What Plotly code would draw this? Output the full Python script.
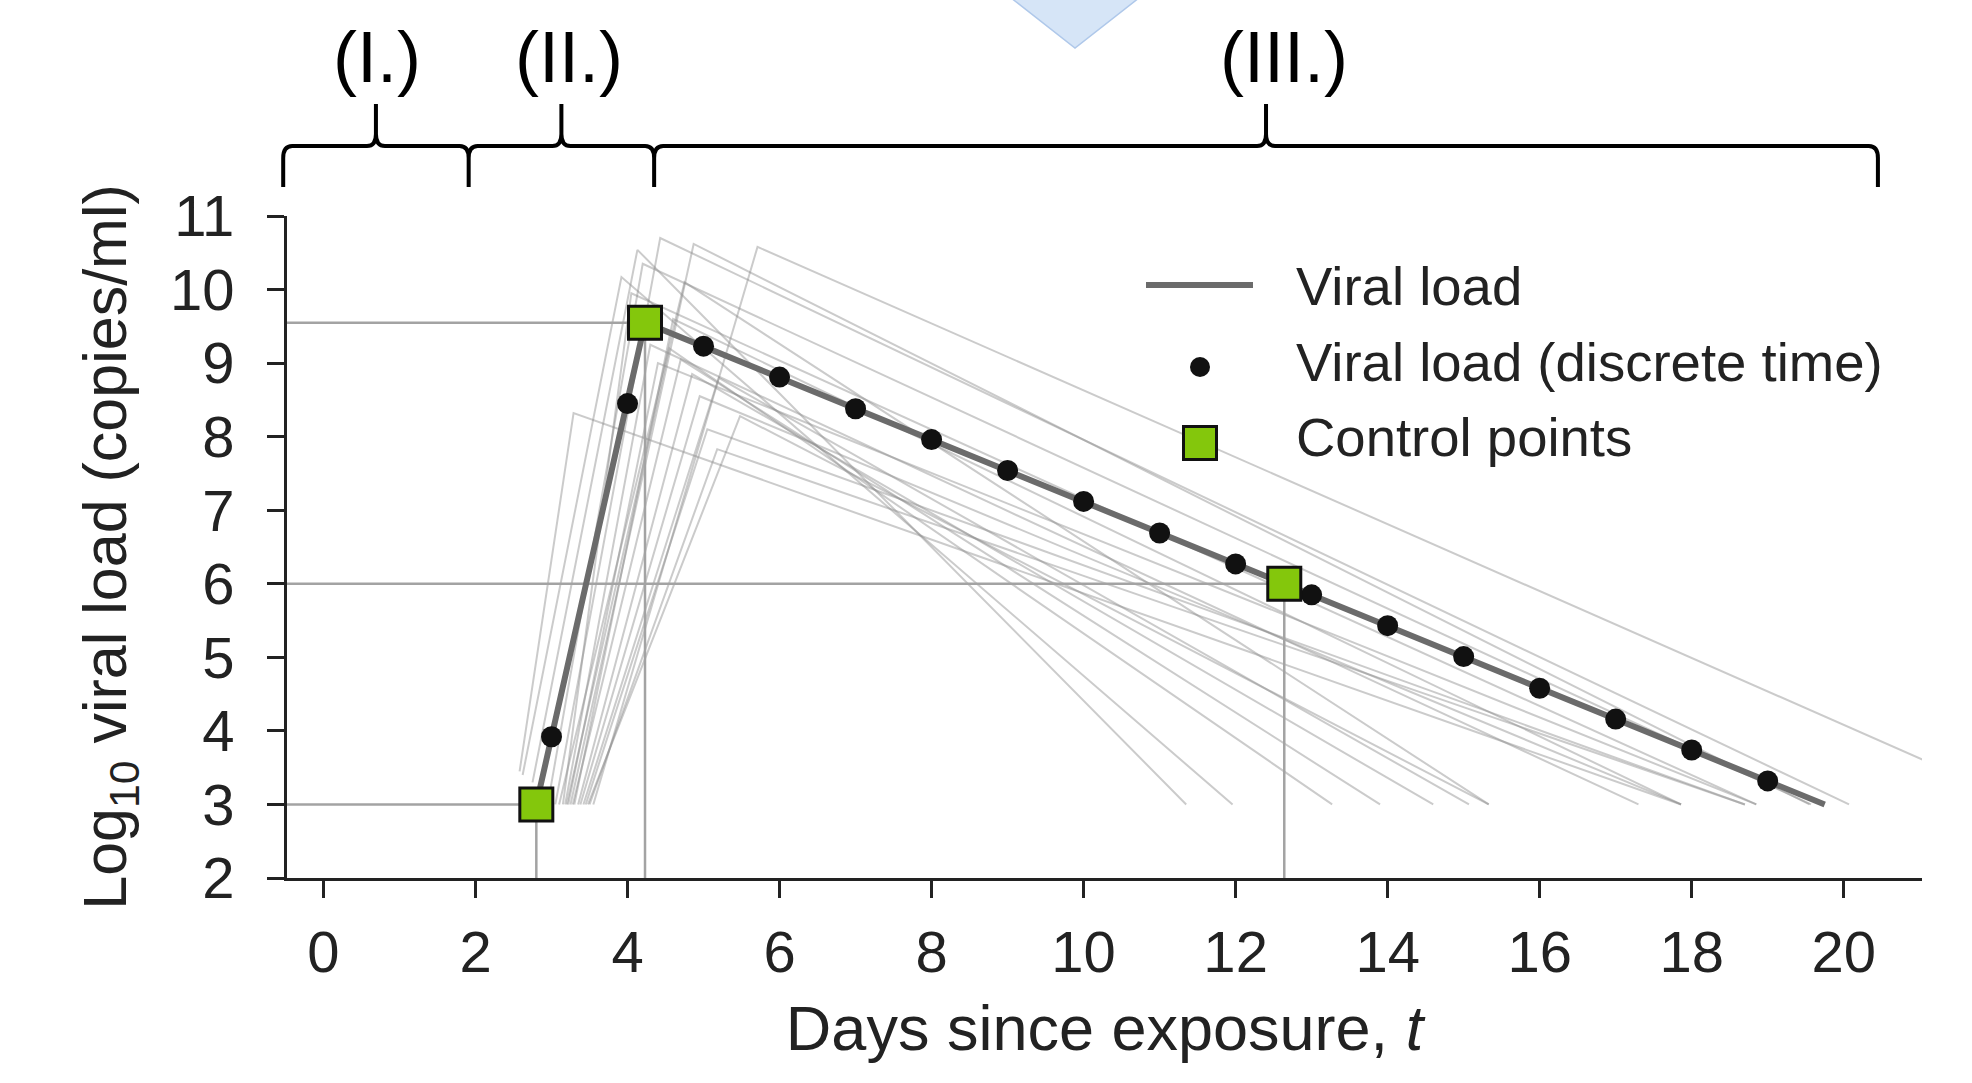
import plotly.graph_objects as go

# ---------------- data ----------------
control_day = [2.80, 4.23, 12.64]
control_load = [3.00, 9.55, 6.00]

curve_day = [2.80, 4.23, 12.64, 19.75]
curve_load = [3.00, 9.55, 6.00, 3.00]

discrete_day = [3, 4, 5, 6, 7, 8, 9, 10, 11, 12, 13, 14, 15, 16, 17, 18, 19]
discrete_load = [3.92, 8.45, 9.23, 8.81, 8.38, 7.96, 7.54, 7.12, 6.69,
                 6.27, 5.85, 5.43, 5.01, 4.58, 4.16, 3.74, 3.32]

# sampled (uncertainty) trajectories: start -> peak -> end
sample_start_day = [2.62, 2.75, 2.58, 3.05, 3.25, 3.55, 3.20, 3.28, 3.35, 3.42,
                    3.48, 3.50, 3.15, 3.30, 3.22, 3.38, 3.45, 3.18, 2.95, 3.10]
sample_start_load = [3.40, 3.30, 3.45, 3.00, 3.00, 3.00, 3.00, 3.00, 3.00, 3.00,
                     3.00, 3.00, 3.00, 3.00, 3.00, 3.00, 3.00, 3.00, 3.00, 3.00]
sample_peak_day = [3.92, 4.13, 3.29, 4.43, 4.87, 5.71, 4.55, 4.70, 4.85, 5.20,
                   5.48, 5.18, 4.05, 4.60, 4.40, 4.95, 5.05, 4.30, 4.20, 4.75]
sample_peak_load = [10.17, 10.54, 8.32, 10.70, 10.62, 10.58, 9.20, 9.05, 8.85, 8.80,
                    8.28, 7.83, 9.95, 9.60, 9.00, 8.55, 8.10, 9.25, 10.35, 10.10]
sample_end_day = [11.96, 11.35, 17.86, 20.07, 19.55, 21.50, 13.27, 13.90, 14.60, 15.07,
                  15.33, 18.70, 18.85, 17.86, 18.85, 17.86, 18.70, 17.30, 19.57, 15.33]
sample_end_load = [3.00, 3.00, 3.00, 3.00, 3.00, 3.40, 3.00, 3.00, 3.00, 3.00,
                   3.00, 3.00, 3.00, 3.00, 3.00, 3.00, 3.00, 3.00, 3.00, 3.00]

phase_labels = ["(I.)", "(II.)", "(III.)"]
phase_bounds = [-0.53, 1.91, 4.35, 20.45]
phase_label_day = [0.71, 3.23, 12.64]

x_ticks = [0, 2, 4, 6, 8, 10, 12, 14, 16, 18, 20]
y_ticks = [2, 3, 4, 5, 6, 7, 8, 9, 10, 11]
X_RANGE = [-0.48, 21.03]
Y_RANGE = [2, 11]

legend_labels = ["Viral load", "Viral load (discrete time)", "Control points"]

# ---------------- layout geometry ----------------
W, H = 1972, 1083
ML, MR, MT, MB = 287, 50, 216, 205
PW, PH = W - ML - MR, H - MT - MB

FONT = "Liberation Sans, Arial, Helvetica, sans-serif"
TXT = "#222222"
LINE_COL = "#6b6b6b"
REF_COL = "#a3a3a3"
SAMPLE_COL = "rgba(140,140,140,0.45)"
GREEN = "#84C70C"


def px_x(px):
    return (px - ML) / PW


def px_y(py):
    return (H - MB - py) / PH


def day_x(d):
    return (d - X_RANGE[0]) / (X_RANGE[1] - X_RANGE[0])


fig = go.Figure()

# sampled trajectories
for i in range(len(sample_start_day)):
    fig.add_trace(go.Scatter(
        x=[sample_start_day[i], sample_peak_day[i], sample_end_day[i]],
        y=[sample_start_load[i], sample_peak_load[i], sample_end_load[i]],
        mode="lines", line=dict(color=SAMPLE_COL, width=2),
        hoverinfo="skip", showlegend=False))

# reference lines to the axes from each control point
for cx, cy in zip(control_day, control_load):
    fig.add_trace(go.Scatter(x=[X_RANGE[0], cx], y=[cy, cy], mode="lines",
                             line=dict(color=REF_COL, width=2.5),
                             hoverinfo="skip", showlegend=False))
    fig.add_trace(go.Scatter(x=[cx, cx], y=[Y_RANGE[0], cy], mode="lines",
                             line=dict(color=REF_COL, width=2.5),
                             hoverinfo="skip", showlegend=False))

# main curve
fig.add_trace(go.Scatter(x=curve_day, y=curve_load, mode="lines",
                         name=legend_labels[0],
                         line=dict(color=LINE_COL, width=6), showlegend=False))
# discrete time points
fig.add_trace(go.Scatter(x=discrete_day, y=discrete_load, mode="markers",
                         name=legend_labels[1],
                         marker=dict(color="#111111", size=21), showlegend=False))
# control points
fig.add_trace(go.Scatter(x=control_day, y=control_load, mode="markers",
                         name=legend_labels[2],
                         marker=dict(symbol="square", color=GREEN, size=33,
                                     line=dict(color="#111111", width=3)),
                         showlegend=False))

shapes = []
annotations = []

# ---- custom legend ----
shapes.append(dict(type="line", xref="paper", yref="paper",
                   x0=px_x(1146), x1=px_x(1253), y0=px_y(285), y1=px_y(285),
                   line=dict(color=LINE_COL, width=6)))
shapes.append(dict(type="circle", xref="paper", yref="paper",
                   xsizemode="pixel", ysizemode="pixel",
                   xanchor=px_x(1200), yanchor=px_y(367),
                   x0=-10, x1=10, y0=-10, y1=10,
                   fillcolor="#111111", line=dict(color="#111111", width=0)))
shapes.append(dict(type="rect", xref="paper", yref="paper",
                   xsizemode="pixel", ysizemode="pixel",
                   xanchor=px_x(1200), yanchor=px_y(443),
                   x0=-16.5, x1=16.5, y0=-16.5, y1=16.5,
                   fillcolor=GREEN, line=dict(color="#111111", width=3)))
for lab, py in zip(legend_labels, [286, 362, 437]):
    annotations.append(dict(text=lab, xref="paper", yref="paper",
                            x=px_x(1294), y=px_y(py), xanchor="left",
                            yanchor="middle", showarrow=False,
                            font=dict(family=FONT, size=54.5, color=TXT)))

# ---- phase braces ----
bar_y, hook_y, tip_y = px_y(146), px_y(187), px_y(104)
rx, ry = 9 / PW, 12 / PH
b = [day_x(v) for v in phase_bounds]
tips = [(b[i] + b[i + 1]) / 2 for i in range(3)]
path = ""
for i in range(3):
    x0, x1, t = b[i], b[i + 1], tips[i]
    path += (f"M{x0},{hook_y} L{x0},{bar_y - ry} Q{x0},{bar_y} {x0 + rx},{bar_y} "
             f"L{t - rx},{bar_y} Q{t},{bar_y} {t},{bar_y + ry} L{t},{tip_y} "
             f"M{t},{tip_y} L{t},{bar_y + ry} Q{t},{bar_y} {t + rx},{bar_y} "
             f"L{x1 - rx},{bar_y} Q{x1},{bar_y} {x1},{bar_y - ry} L{x1},{hook_y} ")
shapes.append(dict(type="path", xref="paper", yref="paper", path=path,
                   line=dict(color="#000000", width=4)))

for lab, d in zip(phase_labels, phase_label_day):
    annotations.append(dict(text=lab, xref="paper", yref="paper",
                            x=day_x(d), y=px_y(57), xanchor="center",
                            yanchor="middle", showarrow=False,
                            font=dict(family=FONT, size=72, color="#000000")))

# ---- decorative triangle at the top ----
tri = (f"M{px_x(1006)},{px_y(-6)} L{px_x(1144)},{px_y(-6)} "
       f"L{px_x(1075)},{px_y(48)} Z")
shapes.append(dict(type="path", xref="paper", yref="paper", path=tri,
                   fillcolor="#D6E5F7", line=dict(color="#AFC8EA", width=1.5)))

axis_common = dict(showgrid=False, zeroline=False, showline=True,
                   linecolor="#222222", linewidth=3, ticks="outside",
                   ticklen=17, tickwidth=3, tickcolor="#222222",
                   tickfont=dict(family=FONT, size=58, color=TXT))

fig.update_layout(
    width=W, height=H,
    margin=dict(l=ML, r=MR, t=MT, b=MB, autoexpand=False),
    paper_bgcolor="white", plot_bgcolor="white",
    showlegend=False,
    shapes=shapes, annotations=annotations,
    xaxis=dict(range=X_RANGE, tickvals=x_ticks, ticklabelstandoff=4,
               title=dict(text="Days since exposure, <i>t</i>",
                          font=dict(family=FONT, size=63, color=TXT),
                          standoff=24),
               **axis_common),
    yaxis=dict(range=Y_RANGE, tickvals=y_ticks, ticklabelstandoff=21,
               title=dict(text="Log<sub>10</sub> viral load (copies/ml)",
                          font=dict(family=FONT, size=61, color=TXT),
                          standoff=24),
               **axis_common),
)

fig.write_html("out.html",
               config={"displayModeBar": False},
               post_script="document.body.style.margin='0';"
                           "document.body.style.overflow='hidden';")
